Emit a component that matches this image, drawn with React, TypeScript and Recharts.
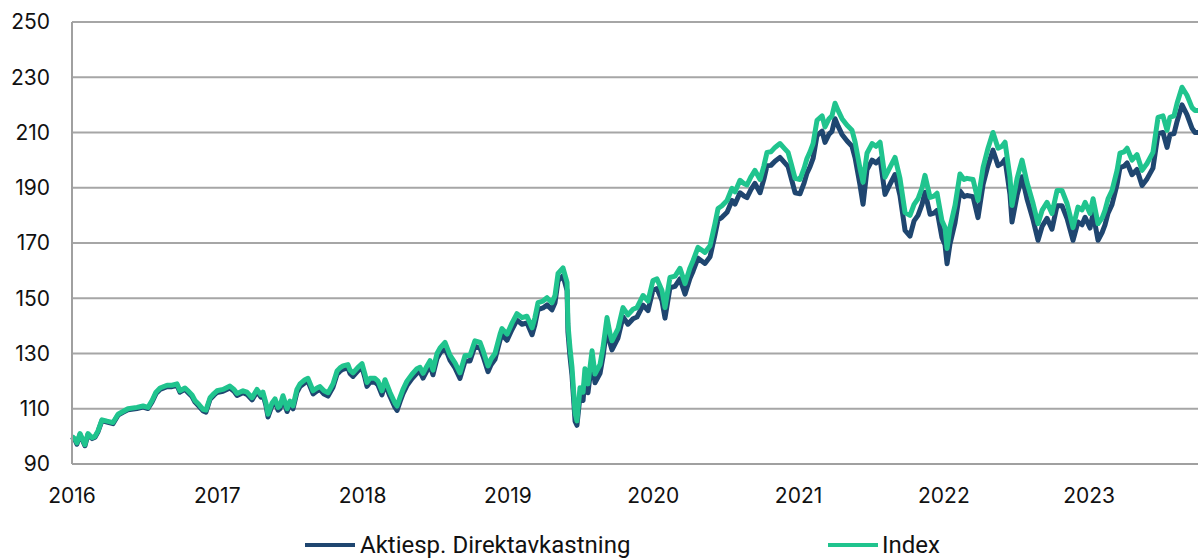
import { LineChart, Line, CartesianGrid, XAxis, YAxis, Legend } from "recharts";

// decimal years
const years = [
  2016.0, 2016.021, 2016.034, 2016.055, 2016.089, 2016.11, 2016.138, 2016.158, 2016.179, 2016.206,
  2016.241, 2016.282, 2016.317, 2016.351, 2016.385, 2016.447, 2016.489, 2016.523, 2016.551, 2016.578,
  2016.606, 2016.654, 2016.688, 2016.723, 2016.743, 2016.778, 2016.798, 2016.826, 2016.846, 2016.874,
  2016.902, 2016.922, 2016.95, 2016.977, 2016.998, 2017.039, 2017.087, 2017.115, 2017.136, 2017.177,
  2017.204, 2017.239, 2017.273, 2017.301, 2017.314, 2017.335, 2017.349, 2017.376, 2017.397, 2017.418,
  2017.431, 2017.452, 2017.48, 2017.5, 2017.521, 2017.548, 2017.569, 2017.603, 2017.624, 2017.659,
  2017.686, 2017.707, 2017.734, 2017.762, 2017.796, 2017.824, 2017.844, 2017.865, 2017.899, 2017.913,
  2017.934, 2017.968, 2017.996, 2018.016, 2018.03, 2018.051, 2018.085, 2018.106, 2018.133, 2018.154,
  2018.188, 2018.223, 2018.237, 2018.257, 2018.278, 2018.305, 2018.34, 2018.374, 2018.395, 2018.416,
  2018.443, 2018.464, 2018.484, 2018.512, 2018.533, 2018.567, 2018.601, 2018.636, 2018.67, 2018.705,
  2018.739, 2018.773, 2018.808, 2018.829, 2018.863, 2018.884, 2018.911, 2018.946, 2018.959, 2018.994,
  2019.028, 2019.062, 2019.097, 2019.131, 2019.166, 2019.186, 2019.207, 2019.241, 2019.269, 2019.303,
  2019.324, 2019.345, 2019.379, 2019.407, 2019.413, 2019.427, 2019.441, 2019.462, 2019.475, 2019.496,
  2019.517, 2019.53, 2019.551, 2019.579, 2019.599, 2019.634, 2019.654, 2019.682, 2019.703, 2019.716,
  2019.758, 2019.792, 2019.826, 2019.861, 2019.888, 2019.93, 2019.964, 2019.998, 2020.026, 2020.06,
  2020.081, 2020.115, 2020.15, 2020.184, 2020.219, 2020.253, 2020.274, 2020.308, 2020.356, 2020.391,
  2020.425, 2020.446, 2020.473, 2020.508, 2020.542, 2020.563, 2020.597, 2020.625, 2020.645, 2020.673,
  2020.7, 2020.735, 2020.762, 2020.783, 2020.81, 2020.838, 2020.872, 2020.907, 2020.928, 2020.948,
  2020.976, 2021.01, 2021.038, 2021.058, 2021.079, 2021.1, 2021.127, 2021.162, 2021.182, 2021.21,
  2021.23, 2021.251, 2021.272, 2021.299, 2021.334, 2021.368, 2021.389, 2021.423, 2021.444, 2021.471,
  2021.506, 2021.533, 2021.561, 2021.595, 2021.629, 2021.664, 2021.698, 2021.733, 2021.767, 2021.795,
  2021.822, 2021.85, 2021.87, 2021.905, 2021.932, 2021.953, 2021.987, 2022.008, 2022.022, 2022.042,
  2022.077, 2022.111, 2022.139, 2022.159, 2022.201, 2022.235, 2022.27, 2022.304, 2022.338, 2022.373,
  2022.4, 2022.421, 2022.455, 2022.469, 2022.504, 2022.538, 2022.572, 2022.614, 2022.648, 2022.676,
  2022.71, 2022.744, 2022.779, 2022.813, 2022.848, 2022.889, 2022.923, 2022.951, 2022.972, 2023.006,
  2023.027, 2023.061, 2023.089, 2023.109, 2023.13, 2023.157, 2023.192, 2023.212, 2023.24, 2023.261,
  2023.295, 2023.329, 2023.364, 2023.398, 2023.439, 2023.474, 2023.508, 2023.536, 2023.556, 2023.584,
  2023.605, 2023.639, 2023.673, 2023.708, 2023.728, 2023.749,
];

const indexValues = [
  100, 99, 97.6, 101, 97, 101, 99.5, 100, 102, 106,
  105.5, 105, 108, 109, 110, 110.5, 111, 110.5, 113, 116,
  117.5, 118.5, 118.5, 119, 116.5, 117.5, 116.5, 115, 113, 111.5,
  109.8, 109.5, 114, 115.5, 116.5, 117, 118.2, 117, 115.5, 116.5,
  116, 114, 117, 115, 116, 112, 108, 112, 113.6, 110.5,
  111, 114.7, 110, 112.8, 111, 117, 119, 120.5, 121, 116.5,
  117.5, 118, 116.5, 115.8, 119, 123.7, 124.8, 125.5, 126, 124,
  123, 125, 126.3, 122.5, 119.5, 121, 121, 120, 116.5, 120.5,
  116, 112, 111, 114, 117, 120, 122.5, 124.5, 125, 122.8,
  125.5, 127.4, 124, 130, 132, 134, 129.4, 126.6, 123, 129.3,
  129.3, 134.6, 134, 131, 125.5, 128, 130, 137, 139, 137,
  141, 144.4, 143, 143.5, 139.3, 143, 148.4, 149, 150.2, 148.4,
  151, 159, 161, 155.7, 140.7, 132, 125, 108.5, 105.6, 117.6,
  116, 124.5, 119, 131, 122.6, 126, 132, 143, 137, 134.6,
  139, 146.6, 144, 146, 146.6, 151, 149, 156.4, 157, 152.8,
  146.6, 157.5, 158, 160.8, 155.3, 161, 163.6, 168.4, 166.6, 169,
  177, 182.5, 183.5, 185.4, 189.8, 188.5, 192.7, 191.5, 191, 194,
  196.3, 193, 198, 202.8, 203, 204.6, 206, 204, 202.8, 199,
  193.4, 193, 197, 200.6, 203, 206, 214.4, 216, 212, 215,
  216, 220.6, 218, 215, 212.6, 210.8, 206.6, 197, 192, 202.5,
  206, 205, 206.5, 193.8, 197.4, 201, 193.4, 181, 180, 184,
  186, 190, 194.5, 186.5, 187, 188, 178, 175.6, 168, 175.6,
  183.6, 195, 193, 193.4, 193, 185.4, 197.4, 204.3, 210, 204.3,
  205, 206.5, 193.8, 183.6, 193.4, 200, 192, 184.3, 177, 181.8,
  184.7, 180.7, 189, 189, 184.3, 175.6, 183, 182, 184.7, 180.7,
  186, 177, 179, 181.8, 186, 189, 196.3, 202.5, 203, 204.3,
  200, 202, 196.3, 198.8, 202.8, 215.5, 216, 210.8, 215.5, 216,
  220.6, 226.4, 223.5, 219, 218, 218,
];

const aktiespValues = [
  99.8, 98.7, 97.2, 100.7, 96.6, 100.7, 99.2, 99.7, 101.7, 105.7,
  105.2, 104.6, 107.7, 108.7, 109.6, 110.1, 110.6, 110.1, 112.5, 115.5,
  117, 118, 118, 118.4, 116, 117, 115.9, 114.4, 112.4, 110.9,
  109.2, 108.8, 113.4, 114.9, 115.9, 116.3, 117.5, 116.3, 114.8, 115.8,
  115.2, 113.2, 116.2, 114.2, 115.2, 111.1, 107, 111.1, 112.7, 109.5,
  110, 113.8, 109, 111.8, 110, 116, 118, 119.4, 119.9, 115.4,
  116.4, 116.9, 115.3, 114.6, 117.8, 122.5, 123.6, 124.3, 124.8, 122.8,
  121.7, 123.7, 125, 121.2, 118.1, 119.6, 119.6, 118.6, 115, 119,
  114.5, 110.5, 109.4, 112.5, 115.5, 118.4, 120.9, 122.9, 123.4, 121.1,
  123.8, 125.7, 122.3, 128.2, 130.2, 132.2, 127.6, 124.8, 121, 127.3,
  127.3, 132.6, 132, 129, 123.4, 125.9, 127.9, 134.9, 136.8, 134.8,
  138.7, 142.1, 140.6, 141.1, 136.8, 140.5, 145.9, 146.5, 147.6, 145.8,
  148.4, 156.3, 158.2, 152.8, 137.8, 129, 122, 105.5, 104, 114.6,
  113, 121.5, 115.8, 128, 119.4, 122.8, 128.8, 139.8, 133.7, 131.3,
  135.7, 143.2, 140.6, 142.6, 143.2, 147.5, 145.5, 152.9, 153.5, 149.2,
  142.8, 153.8, 154.3, 157, 151.5, 157.2, 159.8, 164.5, 162.6, 165,
  173, 178.4, 179.3, 181.1, 185.4, 184.1, 188.2, 187, 186.4, 189.4,
  191.6, 188.2, 193.2, 198, 198.1, 199.6, 201, 198.9, 197.7, 193.8,
  188.2, 187.8, 191.7, 195.3, 197.6, 200.6, 208.9, 210.5, 206.4, 209.4,
  210.4, 215, 212.3, 209.3, 206.9, 205, 200.8, 191, 184, 196.5,
  200, 199, 200.5, 187.6, 191.2, 194.8, 187.2, 174.6, 172.5, 178,
  180, 184, 188.4, 180.4, 180.8, 181.8, 172, 169.4, 162.5, 169.6,
  177.4, 188.8, 186.8, 187.2, 186.8, 179.2, 191.2, 198.1, 203.6, 198,
  198.8, 200.3, 187.6, 177.6, 187.3, 194, 186, 178.4, 171, 176,
  178.9, 175, 183.5, 183.5, 178.8, 171, 177.6, 176.6, 179.3, 175.4,
  180.7, 171, 173.8, 176.6, 180.8, 183.9, 191.2, 197.3, 197.8, 199,
  194.7, 196.6, 190.8, 193.2, 197.1, 209.6, 210, 204.6, 209.2, 209.6,
  214, 220, 216.5, 211.5, 210, 210,
];

const yearTicks = [2016, 2017, 2018, 2019, 2020, 2021, 2022, 2023];
const valueTicks = [90, 110, 130, 150, 170, 190, 210, 230, 250];

const seriesNames = { aktiesp: "Aktiesp. Direktavkastning", index: "Index" };

const NAVY = "#1f4670";
const GREEN = "#20c48e";

const data = years.map((t, i) => ({
  t,
  aktiesp: aktiespValues[i],
  index: indexValues[i],
}));

const LegendContent = () => (
  <div
    style={{
      height: 50,
      boxSizing: "border-box",
      paddingTop: 24,
      paddingLeft: 305,
      display: "flex",
      fontFamily: "Roboto, sans-serif",
      fontSize: 24,
      lineHeight: "24px",
      color: "#111",
    }}
  >
    <div style={{ display: "flex", alignItems: "center", width: 523 }}>
      <span style={{ display: "inline-block", width: 50, height: 4, background: NAVY, marginRight: 5 }} />
      <span>{seriesNames.aktiesp}</span>
    </div>
    <div style={{ display: "flex", alignItems: "center" }}>
      <span style={{ display: "inline-block", width: 50, height: 4, background: GREEN, marginRight: 4 }} />
      <span>{seriesNames.index}</span>
    </div>
  </div>
);

const App = () => {
  return (
    <div style={{ position: "absolute", left: 0, top: 0, width: 1198, height: 558, overflow: "hidden", background: "#fff" }}>
      <LineChart
        width={1198}
        height={558}
        data={data}
        margin={{ top: 22, right: 0, bottom: 0, left: 0 }}
        style={{ fontFamily: "Inter, sans-serif" }}
      >
        <CartesianGrid vertical={false} stroke="#a6a6a6" strokeWidth={2} />
        <XAxis
          dataKey="t"
          type="number"
          domain={[2016, 2023.749]}
          ticks={yearTicks}
          tickFormatter={(v) => String(Math.round(v))}
          height={44}
          tickLine={false}
          tickSize={0}
          tickMargin={24}
          axisLine={{ stroke: "#a0a0a0", strokeWidth: 2 }}
          tick={{ fill: "#111", fontSize: 21 }}
        />
        <YAxis
          domain={[90, 250]}
          ticks={valueTicks}
          width={72}
          tickLine={false}
          tickSize={0}
          tickMargin={22}
          axisLine={{ stroke: "#a0a0a0", strokeWidth: 2 }}
          tick={{ fill: "#111", fontSize: 21 }}
        />
        <Line
          type="linear"
          dataKey="aktiesp"
          name={seriesNames.aktiesp}
          stroke={NAVY}
          strokeWidth={5}
          strokeLinejoin="round"
          dot={false}
          isAnimationActive={false}
        />
        <Line
          type="linear"
          dataKey="index"
          name={seriesNames.index}
          stroke={GREEN}
          strokeWidth={5}
          strokeLinejoin="round"
          dot={false}
          isAnimationActive={false}
        />
        <Legend verticalAlign="bottom" content={<LegendContent />} wrapperStyle={{ height: 50 }} />
      </LineChart>
    </div>
  );
};

export default App;
